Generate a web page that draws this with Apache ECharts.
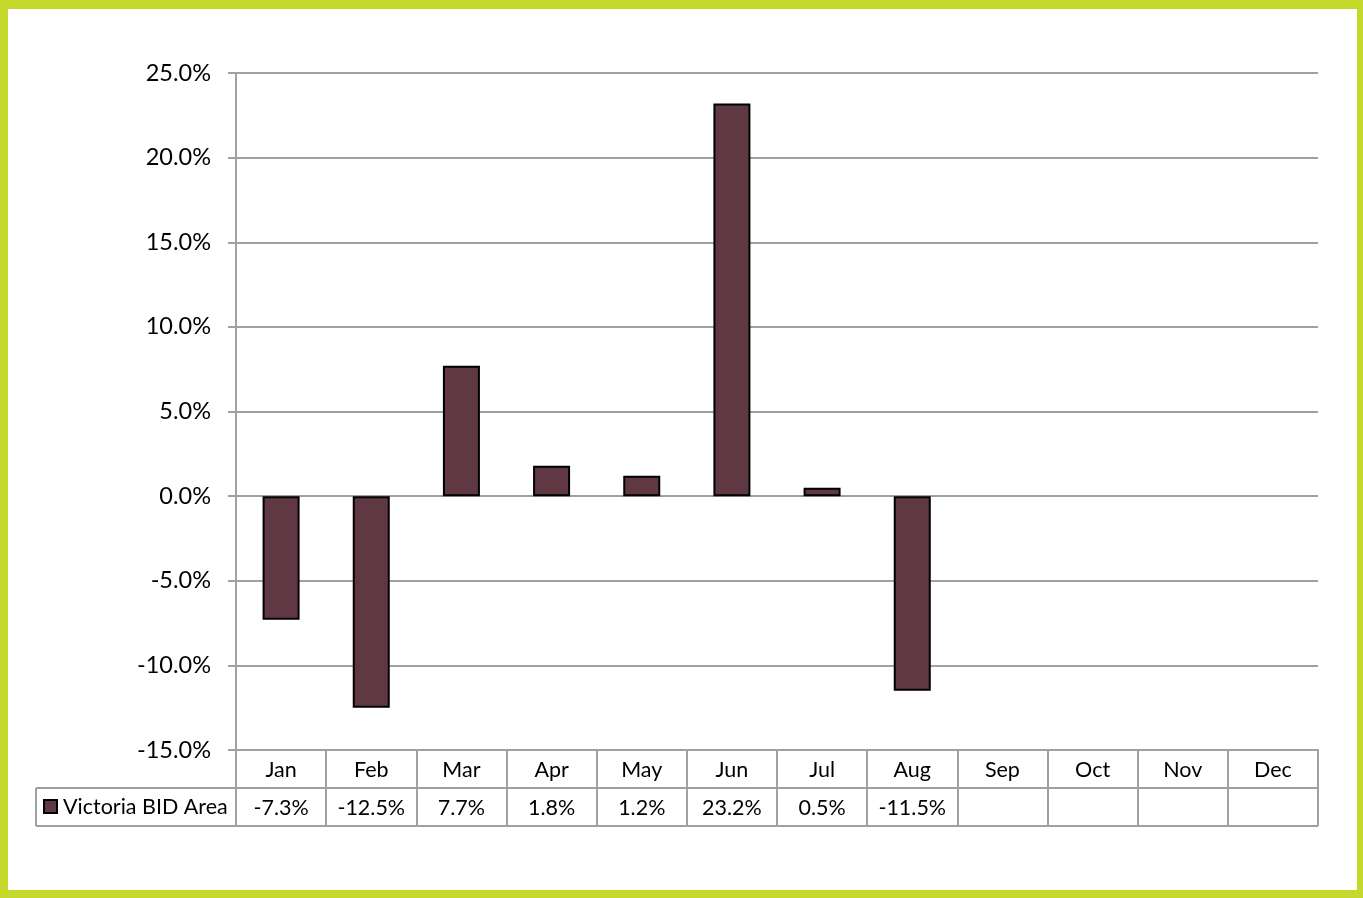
<!DOCTYPE html>
<html>
<head>
<meta charset="utf-8">
<script src="https://cdn.jsdelivr.net/npm/echarts@6/dist/echarts.min.js"></script>
<style>
html,body{margin:0;padding:0;background:#fff;}
#chart{width:1363px;height:898px;}
</style>
</head>
<body>
<div id="chart"></div>
<script>
const months = ['Jan','Feb','Mar','Apr','May','Jun','Jul','Aug','Sep','Oct','Nov','Dec'];
const seriesName = 'Victoria BID Area';
const values = [-7.3, -12.5, 7.7, 1.8, 1.2, 23.2, 0.5, -11.5, null, null, null, null];
const yTicks = { min: -15, max: 25, interval: 5 };

const FONT = 'Lato';
const GRAY = '#a0a0a0';
const BAR = '#5f3843';
const LIME = '#c5d92d';
const TFS = 21.5;

const chart = echarts.init(document.getElementById('chart'));
const gridL = 236, gridR = 1318, gridT = 73, gridB = 750;
const rowH = 38;

chart.setOption({
  backgroundColor: '#ffffff',
  animation: false,
  grid: { left: gridL, right: 1363 - gridR, top: gridT, bottom: 898 - gridB, containLabel: false },
  xAxis: [
    {
      type: 'category', data: months, position: 'bottom',
      axisLine: { onZero: false, lineStyle: { color: GRAY, width: 2 } },
      axisTick: { show: true, interval: 0, length: rowH * 2, lineStyle: { color: GRAY, width: 2 } },
      axisLabel: { interval: 0, margin: 9, color: '#000', fontFamily: FONT, fontSize: TFS }
    },
    {
      type: 'category', data: months, position: 'bottom', offset: rowH,
      axisLine: { show: false }, axisTick: { show: false },
      axisLabel: {
        interval: 0, margin: 9, color: '#000', fontFamily: FONT, fontSize: TFS,
        formatter: function (v, i) { return values[i] == null ? '' : values[i].toFixed(1) + '%'; }
      }
    }
  ],
  yAxis: {
    type: 'value', min: yTicks.min, max: yTicks.max, interval: yTicks.interval,
    axisLine: { show: true, lineStyle: { color: GRAY, width: 2 } },
    axisTick: { show: true, length: 8, lineStyle: { color: GRAY, width: 2 } },
    axisLabel: { margin: 25, color: '#000', fontFamily: FONT, fontSize: 23.5,
      formatter: function (v) { return v.toFixed(1) + '%'; } },
    splitLine: { show: true, lineStyle: { color: GRAY, width: 2 } }
  },
  series: [{
    type: 'bar', name: seriesName, data: values, xAxisIndex: 0,
    barWidth: 37,
    itemStyle: { color: BAR, borderColor: '#000', borderWidth: 2 }
  }],
  graphic: [
    { type: 'line', shape: { x1: 36, y1: gridB + rowH, x2: gridR, y2: gridB + rowH }, style: { stroke: GRAY, lineWidth: 2 } },
    { type: 'line', shape: { x1: 36, y1: gridB + rowH * 2, x2: gridR, y2: gridB + rowH * 2 }, style: { stroke: GRAY, lineWidth: 2 } },
    { type: 'line', shape: { x1: 36, y1: gridB + rowH, x2: 36, y2: gridB + rowH * 2 }, style: { stroke: GRAY, lineWidth: 2 } },
    { type: 'rect', shape: { x: 44, y: gridB + rowH + 12, width: 13, height: 13 }, style: { fill: BAR, stroke: '#000', lineWidth: 2 } },
    { type: 'text', x: 63, y: gridB + rowH + rowH / 2, style: { text: seriesName, fill: '#000', font: TFS + 'px ' + FONT, verticalAlign: 'middle', align: 'left' } },
    { type: 'rect', shape: { x: 0, y: 0, width: 1363, height: 9 }, style: { fill: LIME } },
    { type: 'rect', shape: { x: 0, y: 890, width: 1363, height: 8 }, style: { fill: LIME } },
    { type: 'rect', shape: { x: 0, y: 0, width: 8, height: 898 }, style: { fill: LIME } },
    { type: 'rect', shape: { x: 1357, y: 0, width: 6, height: 898 }, style: { fill: LIME } }
  ]
});
</script>
</body>
</html>
